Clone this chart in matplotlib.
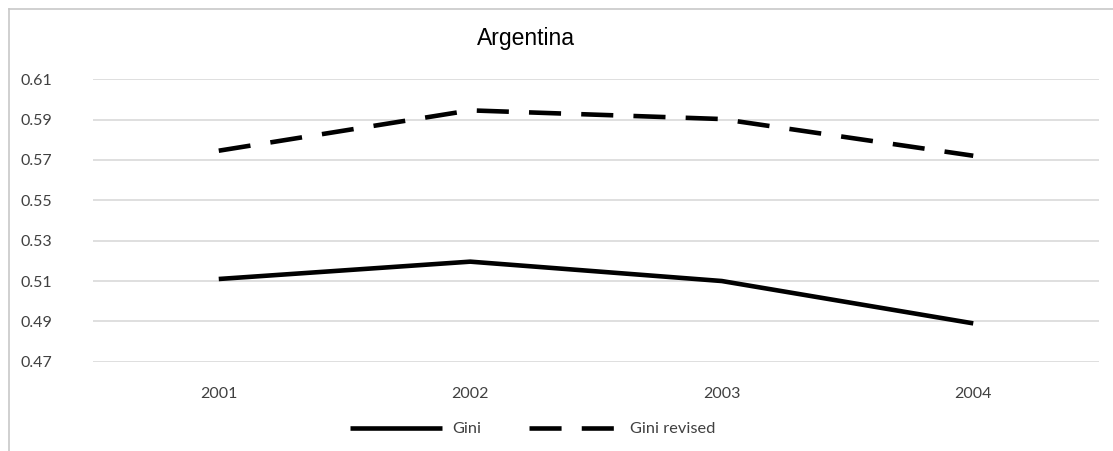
import matplotlib
matplotlib.use("Agg")
import matplotlib.pyplot as plt
from matplotlib.lines import Line2D

years = ["2001", "2002", "2003", "2004"]
gini = [0.511, 0.5196, 0.510, 0.489]
gini_revised = [0.5746, 0.5946, 0.5903, 0.5721]
y_ticks = [0.47, 0.49, 0.51, 0.53, 0.55, 0.57, 0.59, 0.61]

W, H = 1113, 451
fig = plt.figure(figsize=(W / 100, H / 100), dpi=100)
ax = fig.add_axes([93 / W, 1 - 361.7 / H, (1099 - 93) / W, (361.7 - 79.3) / H])

x = list(range(len(years)))
lw = 3.3
ax.plot(x, gini, color="black", lw=lw, solid_capstyle="butt", label="Gini")
ax.plot(x, gini_revised, color="black", lw=lw, dashes=(7, 4.4),
        dash_capstyle="butt", label="Gini revised")

ax.set_xlim(-0.5, len(years) - 0.5)
ax.set_ylim(y_ticks[0], y_ticks[-1])
ax.set_yticks(y_ticks)
ax.set_yticklabels([f"{v:.2f}" for v in y_ticks])
ax.set_xticks(x)
ax.set_xticklabels(years)
ax.yaxis.grid(True, color="#d9d9d9", lw=1.2)
ax.set_axisbelow(True)
for s in ax.spines.values():
    s.set_visible(False)
ax.tick_params(length=0, labelsize=11.5, labelcolor="#404040")
ax.tick_params(axis="y", pad=29.5)
ax.tick_params(axis="x", pad=18.5)
for t in ax.get_xticklabels() + ax.get_yticklabels():
    t.set_family("Lato")

fig.text(526 / W, 1 - 38 / H, "Argentina", ha="center", va="center",
         fontsize=16.5, family="Liberation Sans", color="black")

leg = fig.legend(loc="center", bbox_to_anchor=(533 / W, 1 - 429 / H),
                 ncol=2, frameon=False, handlelength=5.6, handletextpad=0.6,
                 columnspacing=2.9, prop={"family": "Lato", "size": 11.8})
for t in leg.get_texts():
    t.set_color("#404040")

# chart border (left and top edges)
fig.add_artist(Line2D([8.5 / W, 8.5 / W], [0, 1 - 8.5 / H], transform=fig.transFigure,
                      color="#c8c8c8", lw=1.2))
fig.add_artist(Line2D([8.5 / W, 1], [1 - 8.5 / H, 1 - 8.5 / H], transform=fig.transFigure,
                      color="#c8c8c8", lw=1.2))

fig.savefig("out.png", dpi=100)
